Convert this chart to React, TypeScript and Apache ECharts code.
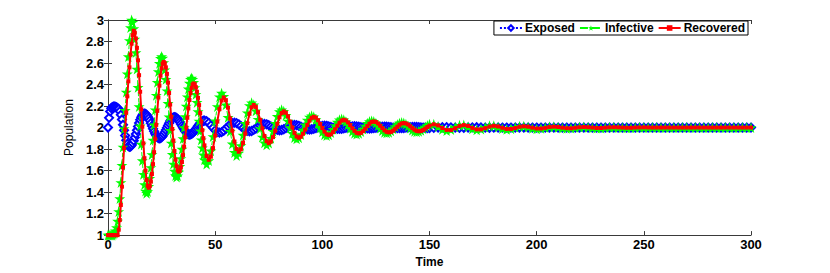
import React, { useEffect, useRef } from "react";
import * as echarts from "echarts";

// Time samples (0..45 step 0.5, 46..150 step 1, 152..300 step 2)
const TIME = [
  0, 0.5, 1, 1.5, 2, 2.5, 3, 3.5, 4, 4.5, 5, 5.5, 6, 6.5, 7, 7.5, 8, 8.5, 9, 9.5,
  10, 10.5, 11, 11.5, 12, 12.5, 13, 13.5, 14, 14.5, 15, 15.5, 16, 16.5, 17, 17.5, 18, 18.5, 19, 19.5,
  20, 20.5, 21, 21.5, 22, 22.5, 23, 23.5, 24, 24.5, 25, 25.5, 26, 26.5, 27, 27.5, 28, 28.5, 29, 29.5,
  30, 30.5, 31, 31.5, 32, 32.5, 33, 33.5, 34, 34.5, 35, 35.5, 36, 36.5, 37, 37.5, 38, 38.5, 39, 39.5,
  40, 40.5, 41, 41.5, 42, 42.5, 43, 43.5, 44, 44.5, 45,
  46, 47, 48, 49, 50, 51, 52, 53, 54, 55, 56, 57, 58, 59, 60, 61, 62, 63, 64, 65,
  66, 67, 68, 69, 70, 71, 72, 73, 74, 75, 76, 77, 78, 79, 80, 81, 82, 83, 84, 85,
  86, 87, 88, 89, 90, 91, 92, 93, 94, 95, 96, 97, 98, 99, 100, 101, 102, 103, 104, 105,
  106, 107, 108, 109, 110, 111, 112, 113, 114, 115, 116, 117, 118, 119, 120, 121, 122, 123, 124, 125,
  126, 127, 128, 129, 130, 131, 132, 133, 134, 135, 136, 137, 138, 139, 140, 141, 142, 143, 144, 145,
  146, 147, 148, 149, 150,
  152, 154, 156, 158, 160, 162, 164, 166, 168, 170, 172, 174, 176, 178, 180, 182, 184, 186, 188, 190,
  192, 194, 196, 198, 200, 202, 204, 206, 208, 210, 212, 214, 216, 218, 220, 222, 224, 226, 228, 230,
  232, 234, 236, 238, 240, 242, 244, 246, 248, 250, 252, 254, 256, 258, 260, 262, 264, 266, 268, 270,
  272, 274, 276, 278, 280, 282, 284, 286, 288, 290, 292, 294, 296, 298, 300,
];

const EXPOSED = [
  2.0, 2.09, 2.15, 2.18, 2.19, 2.195, 2.195, 2.193, 2.188, 2.18,
  2.173, 2.151, 2.118, 2.075, 2.026, 1.974, 1.925, 1.882, 1.849, 1.827, 1.82,
  1.824, 1.835, 1.854, 1.878, 1.908, 1.94, 1.975, 2.01, 2.042, 2.072, 2.096, 2.115, 2.126, 2.13,
  2.127, 2.119, 2.105, 2.087, 2.065, 2.041, 2.015, 1.989, 1.965, 1.943, 1.925, 1.911, 1.903, 1.9,
  1.902, 1.91, 1.922, 1.937, 1.956, 1.977, 1.999, 2.02, 2.041, 2.06, 2.076, 2.087, 2.095, 2.097,
  2.095, 2.089, 2.079, 2.067, 2.051, 2.034, 2.016, 1.998, 1.981, 1.966, 1.953, 1.943, 1.937, 1.935,
  1.937, 1.941, 1.949, 1.96, 1.972, 1.986, 2.0, 2.015, 2.028, 2.041, 2.051, 2.059, 2.063, 2.065,
  2.059, 2.044, 2.021, 1.997, 1.974, 1.959, 1.953,
  1.958, 1.97, 1.989, 2.009, 2.028, 2.04, 2.045,
  2.041, 2.03, 2.014, 1.996, 1.98, 1.969, 1.965,
  1.968, 1.978, 1.991, 2.007, 2.02, 2.03, 2.033,
  2.03, 2.022, 2.01, 1.998, 1.986, 1.978, 1.975,
  1.977, 1.984, 1.994, 2.005, 2.015, 2.022, 2.024,
  2.022, 2.016, 2.008, 1.998, 1.99, 1.984, 1.982,
  1.984, 1.989, 1.996, 2.003, 2.01, 2.015, 2.017,
  2.016, 2.011, 2.005, 1.999, 1.993, 1.988, 1.987,
  1.988, 1.992, 1.997, 2.002, 2.007, 2.011, 2.012,
  2.011, 2.008, 2.004, 1.999, 1.995, 1.992, 1.991,
  1.992, 1.994, 1.998, 2.002, 2.006, 2.008, 2.009,
  2.008, 2.006, 2.003, 2.0, 1.997, 1.995, 1.994,
  1.995, 1.996, 1.999, 2.001, 2.004, 2.005, 2.006,
  2.006, 2.004, 2.002, 2.0, 1.998, 1.996, 1.996,
  1.997, 2.0, 2.003, 2.004, 2.002, 1.999, 1.997, 1.998, 2.0, 2.002, 2.003, 2.001, 1.999, 1.998, 1.999,
  2, 2, 2, 2, 2, 2, 2, 2, 2, 2, 2, 2, 2, 2, 2, 2, 2, 2, 2, 2,
  2, 2, 2, 2, 2, 2, 2, 2, 2, 2, 2, 2, 2, 2, 2, 2, 2, 2, 2, 2,
  2, 2, 2, 2, 2, 2, 2, 2, 2, 2, 2, 2, 2, 2, 2, 2, 2, 2, 2, 2,
];

const INFECTIVE = [
  1, 1, 1, 1, 1, 1.01,
  1.02, 1.04, 1.07, 1.13, 1.22, 1.34, 1.49, 1.65, 1.82, 1.99, 2.16, 2.33, 2.5, 2.66, 2.81, 2.93, 3.0,
  2.98, 2.92, 2.824, 2.697, 2.544, 2.374, 2.195, 2.016, 1.846, 1.693, 1.566, 1.47, 1.41, 1.39,
  1.406, 1.453, 1.529, 1.629, 1.75, 1.884, 2.025, 2.166, 2.301, 2.421, 2.521, 2.597, 2.644, 2.66,
  2.646, 2.605, 2.538, 2.449, 2.343, 2.225, 2.1, 1.975, 1.857, 1.751, 1.662, 1.595, 1.554, 1.54,
  1.552, 1.586, 1.64, 1.713, 1.8, 1.898, 2.0, 2.102, 2.2, 2.287, 2.36, 2.414, 2.448, 2.46,
  2.45, 2.42, 2.373, 2.309, 2.234, 2.149, 2.06, 1.971, 1.887, 1.811, 1.747, 1.7,
  1.66,
  1.693, 1.784, 1.917, 2.064, 2.196, 2.287, 2.32,
  2.291, 2.211, 2.095, 1.965, 1.849, 1.769, 1.74,
  1.764, 1.832, 1.93, 2.04, 2.138, 2.206, 2.23,
  2.211, 2.157, 2.078, 1.992, 1.913, 1.859, 1.84,
  1.856, 1.901, 1.966, 2.039, 2.104, 2.149, 2.165,
  2.152, 2.114, 2.06, 2.0, 1.946, 1.908, 1.895,
  1.906, 1.935, 1.979, 2.026, 2.07, 2.099, 2.11,
  2.101, 2.075, 2.038, 1.997, 1.96, 1.934, 1.925,
  1.933, 1.954, 1.985, 2.02, 2.051, 2.072, 2.08,
  2.073, 2.054, 2.026, 1.994, 1.966, 1.947, 1.94,
  1.946, 1.963, 1.987, 2.015, 2.039, 2.056, 2.062,
  2.057, 2.041, 2.019, 1.995, 1.973, 1.957, 1.952,
  1.957, 1.97, 1.989, 2.01, 2.028, 2.041, 2.046,
  2.042, 2.03, 2.013, 1.995, 1.978, 1.966, 1.962,
  1.966, 1.975, 1.99, 2.005, 2.02, 2.03,
  2.03, 2.009, 1.984, 1.972, 1.982, 2.004, 2.022, 2.023, 2.007, 1.988,
  1.979, 1.986, 2.003, 2.016, 2.016, 2.005, 1.991, 1.985, 1.99, 2.002,
  2.012, 2.012, 2.004, 1.993, 1.989, 1.993, 2.001, 2.008, 2.008, 2.003,
  1.996, 1.993, 1.995, 2.0, 2.005, 2.006, 2.002, 1.998, 1.995, 1.996,
  2.0, 2.003, 2.003, 2.001, 1.999, 1.998, 1.999, 2.001, 2.002, 2.001, 2.0,
  2, 2, 2, 2, 2, 2, 2, 2, 2, 2, 2, 2, 2, 2, 2, 2, 2, 2, 2, 2, 2, 2, 2, 2,
];

const RECOVERED = [
  1, 1, 1, 1, 1, 1, 1, 1, 1, 1,
  1.05, 1.14, 1.28, 1.45, 1.63, 1.81, 1.98, 2.14, 2.29, 2.43, 2.56, 2.68, 2.78, 2.86, 2.9,
  2.882, 2.828, 2.741, 2.625, 2.487, 2.333, 2.17, 2.008, 1.853, 1.715, 1.599, 1.512, 1.458, 1.44,
  1.455, 1.498, 1.568, 1.66, 1.771, 1.895, 2.025, 2.155, 2.279, 2.39, 2.482, 2.552, 2.595, 2.61,
  2.597, 2.56, 2.499, 2.418, 2.321, 2.214, 2.1, 1.987, 1.879, 1.782, 1.701, 1.641, 1.603, 1.59,
  1.6, 1.631, 1.68, 1.744, 1.822, 1.909, 2.0, 2.091, 2.178, 2.256, 2.321, 2.369, 2.4, 2.41,
  2.401, 2.375, 2.333, 2.276, 2.209, 2.134, 2.055, 1.976, 1.901, 1.834,
  1.735, 1.7,
  1.729, 1.809, 1.925, 2.055, 2.171, 2.251, 2.28,
  2.255, 2.185, 2.084, 1.971, 1.87, 1.8, 1.775,
  1.797, 1.857, 1.944, 2.041, 2.128, 2.189, 2.21,
  2.192, 2.143, 2.072, 1.993, 1.922, 1.873, 1.855,
  1.87, 1.911, 1.97, 2.035, 2.095, 2.135, 2.15,
  2.138, 2.104, 2.055, 2.0, 1.951, 1.917, 1.905,
  1.915, 1.942, 1.981, 2.024, 2.063, 2.09, 2.1,
  2.092, 2.068, 2.034, 1.996, 1.962, 1.938, 1.93,
  1.937, 1.957, 1.985, 2.017, 2.045, 2.065, 2.072,
  2.066, 2.048, 2.023, 1.994, 1.969, 1.951, 1.945,
  1.951, 1.966, 1.989, 2.014, 2.036, 2.052, 2.057,
  2.052, 2.038, 2.017, 1.995, 1.974, 1.96, 1.955,
  1.959, 1.971, 1.989, 2.008, 2.026, 2.038, 2.042,
  2.038, 2.028, 2.012, 1.995, 1.98, 1.969, 1.965,
  1.968, 1.977, 1.99, 2.005, 2.018,
  2.03, 2.02, 1.996, 1.978, 1.977, 1.994, 2.014, 2.023, 2.015, 1.997,
  1.983, 1.983, 1.995, 2.009, 2.016, 2.01, 1.998, 1.987, 1.987, 1.996,
  2.007, 2.012, 2.008, 1.999, 1.991, 1.991, 1.997, 2.005, 2.008, 2.005,
  1.999, 1.994, 1.993, 1.998, 2.003, 2.005, 2.003, 2.0, 1.996, 1.996,
  1.999, 2.002, 2.003, 2.002, 2.0, 1.998, 1.998, 2.0, 2.001, 2.002, 2.001,
  2, 2, 2, 2, 2, 2, 2, 2, 2, 2, 2, 2, 2, 2, 2, 2, 2, 2, 2, 2, 2, 2, 2, 2,
];

const SERIES_NAMES = ["Exposed", "Infective", "Recovered"];
const X_TICKS = { min: 0, max: 300, interval: 50 };
const Y_TICKS = { min: 1, max: 3, interval: 0.2 };

const STAR =
  "path://M50,0 L61,35 L98,35 L68,57 L79,91 L50,70 L21,91 L32,57 L2,35 L39,35 Z";

const FONT = "'Liberation Sans', Arial, Helvetica, sans-serif";
const AXIS_COLOR = "#3a3a3a";

function pairs(values: number[]) {
  return TIME.map((t, i) => [t, values[i]]);
}

export default function App() {
  const ref = useRef<HTMLDivElement>(null);
  useEffect(() => {
    if (!ref.current) return;
    const chart = echarts.init(ref.current, undefined, { renderer: "svg" });
    const axisLine = { show: true, lineStyle: { color: AXIS_COLOR, width: 1 } };
    const tick = { show: true, inside: true, length: 4, lineStyle: { color: AXIS_COLOR } };
    const label = { color: "#000", fontWeight: "bold", fontSize: 13, fontFamily: FONT };
    chart.setOption({
      animation: false,
      backgroundColor: "#fff",
      grid: { left: 108, right: 79, top: 20, bottom: 31, containLabel: false },
      legend: {
        data: SERIES_NAMES,
        right: 82,
        top: 21,
        orient: "horizontal",
        backgroundColor: "#fff",
        borderColor: "#000",
        borderWidth: 1,
        padding: [1, 3, 1, 5],
        itemGap: 4,
        itemWidth: 22,
        itemHeight: 7,
        textStyle: { color: "#000", fontWeight: "bold", fontSize: 12, fontFamily: FONT, padding: [0, 0, 0, -2] },
      },
      xAxis: [
        {
          type: "value",
          ...X_TICKS,
          name: "Time",
          nameLocation: "middle",
          nameGap: 4,
          nameTextStyle: { color: "#000", fontWeight: "bold", fontSize: 12, fontFamily: FONT, verticalAlign: "top" },
          axisLine,
          axisTick: tick,
          axisLabel: { ...label, margin: 3 },
          splitLine: { show: false },
        },
        {
          type: "value",
          position: "top",
          ...X_TICKS,
          axisLine,
          axisTick: tick,
          axisLabel: { show: false },
          splitLine: { show: false },
        },
      ],
      yAxis: [
        {
          type: "value",
          ...Y_TICKS,
          name: "Population",
          nameLocation: "middle",
          nameGap: 33,
          nameTextStyle: { color: "#000", fontSize: 12, fontFamily: FONT },
          axisLine,
          axisTick: tick,
          axisLabel: {
            ...label,
            margin: 4,
            formatter: (v: number) => String(Math.round(v * 10) / 10),
          },
          splitLine: { show: false },
        },
        {
          type: "value",
          position: "right",
          ...Y_TICKS,
          axisLine,
          axisTick: tick,
          axisLabel: { show: false },
          splitLine: { show: false },
        },
      ],
      series: [
        {
          name: SERIES_NAMES[0],
          type: "line",
          data: pairs(EXPOSED),
          symbol: "emptyDiamond",
          symbolSize: 8,
          showSymbol: true,
          showAllSymbol: true,
          lineStyle: { color: "#0000ff", width: 1, type: "dotted" },
          itemStyle: { color: "#0000ff", borderColor: "#0000ff", borderWidth: 1.6 },
          z: 2,
        },
        {
          name: SERIES_NAMES[1],
          type: "line",
          data: pairs(INFECTIVE),
          symbol: STAR,
          symbolSize: 11,
          showSymbol: true,
          showAllSymbol: true,
          lineStyle: { color: "#00ff00", width: 1, type: "dashed" },
          itemStyle: { color: "#00ff00", borderColor: "#00ff00", borderWidth: 0 },
          z: 3,
        },
        {
          name: SERIES_NAMES[2],
          type: "line",
          data: pairs(RECOVERED),
          symbol: "rect",
          symbolSize: 4,
          showSymbol: true,
          showAllSymbol: true,
          lineStyle: { color: "#ff0000", width: 2, type: "solid" },
          itemStyle: { color: "#ff0000", borderColor: "#ff0000", borderWidth: 0 },
          z: 4,
        },
      ],
    });
    return () => chart.dispose();
  }, []);
  return (
    <div
      ref={ref}
      style={{ position: "fixed", left: 0, top: 0, width: 830, height: 273, background: "#fff" }}
    />
  );
}
